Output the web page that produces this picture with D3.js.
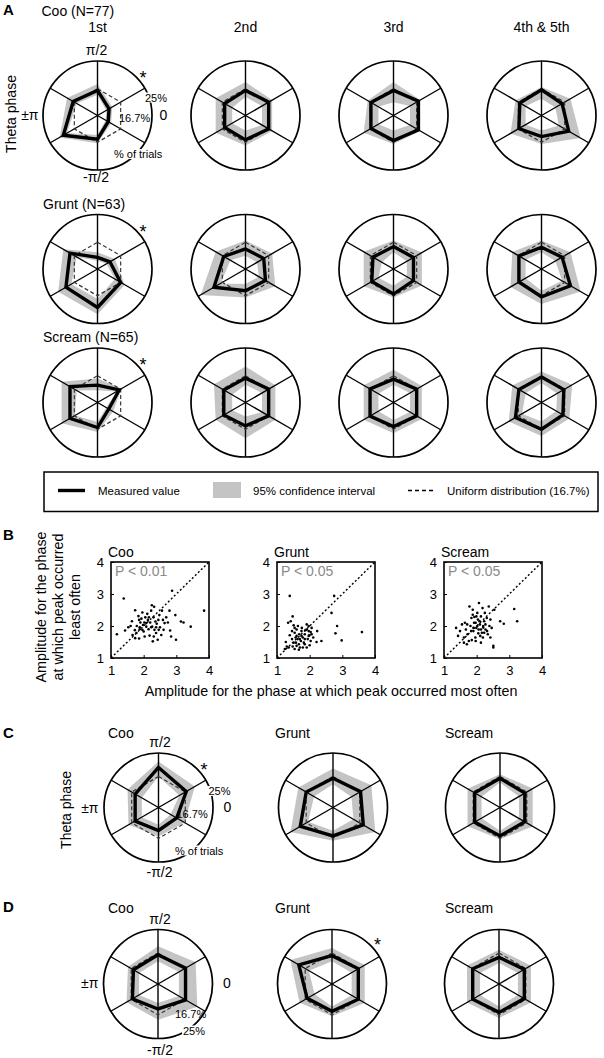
<!DOCTYPE html>
<html><head><meta charset="utf-8">
<script src="https://cdn.jsdelivr.net/npm/d3@7"></script>
<style>
body{margin:0;background:#fff}
svg{display:block;font-family:"Liberation Sans",Arial,Helvetica,sans-serif}
</style>
</head><body>
<svg id="fig" width="604" height="1058"></svg>
<script>
// ---------------- DATA ----------------
// phase bins (degrees) in drawing order: π/2, π/6, -π/6, -π/2, -5π/6, 5π/6
const phaseAnglesDeg = [90, 30, -30, -90, -150, 150];
const phaseAxisLabels = ["π/2", "0", "-π/2", "±π"];
const uniformPct = 16.7;
const callTypes = ["Coo", "Grunt", "Scream"];
const callCountsA = [77, 63, 65];
const peakOrders = ["1st", "2nd", "3rd", "4th & 5th"];

// Panel A: % of trials per phase bin [row = call type][col = peak order]
const panelA_measured = [
  [[16.2,12.7,12.4,15.8,20.5,17.1],[16.2,16.7,16.7,16.0,15.9,15.9],[16.2,17.3,17.3,16.2,16.5,16.5],[16.4,15.8,18.1,15.0,16.5,16.2]],
  [[12.2,13.0,16.7,20.2,19.6,18.2],[14.7,15.0,15.6,15.2,19.6,16.2],[15.4,15.6,15.6,16.2,16.2,15.8],[15.2,15.8,18.7,17.0,16.5,16.5]],
  [[13.9,16.2,12.6,16.2,18.2,18.2],[16.0,16.7,16.7,15.7,16.2,16.2],[15.7,16.7,16.7,15.9,16.8,16.8],[16.3,16.4,16.1,16.7,17.7,16.5]]
];
const panelA_lower = [
  [[14.9,11.7,11.5,14.5,19.2,15.9],[14.2,14.4,14.4,13.2,13.3,13.3],[12.7,14.4,14.4,13.2,13.9,13.9],[13.7,13.5,14.7,13.2,14.2,14.2]],
  [[11.2,11.8,14.7,17.7,17.7,15.9],[12.7,12.7,13.3,13.2,17.3,13.9],[13.7,13.3,13.3,13.7,13.9,12.7],[13.7,13.5,15.8,15.2,14.2,14.2]],
  [[12.4,15.3,11.7,14.5,16.5,15.9],[14.0,14.4,14.4,12.9,13.3,13.3],[14.0,14.4,14.4,13.9,13.9,13.9],[14.5,14.1,13.8,14.4,15.4,14.2]]
];
const panelA_upper = [
  [[18.1,13.8,13.4,17.0,21.8,19.2],[18.7,17.9,17.9,17.7,19.0,19.0],[18.7,17.9,17.9,17.2,19.0,17.6],[17.2,18.7,22.2,17.2,19.4,17.7]],
  [[13.7,14.7,18.1,22.2,22.3,20.5],[17.2,17.9,19.0,17.2,24.2,19.0],[17.2,18.5,18.5,17.2,19.0,19.0],[17.2,18.7,22.2,19.2,19.4,18.8]],
  [[15.9,17.0,14.1,17.5,21.1,21.1],[19.5,19.0,19.0,19.4,19.0,19.6],[18.5,18.5,18.5,17.9,19.0,19.0],[18.0,19.3,18.3,18.7,20.0,18.8]]
];

// Panel C (one radar per call type)
const panelC_measured = [[19.9,17.1,13.2,13.9,15.3,15.3],[16.1,17.0,18.1,15.8,19.1,16.7],[16.1,15.9,15.9,15.8,16.1,16.1]];
const panelC_lower    = [[16.7,14.3,10.7,11.9,12.6,12.6],[14.0,13.3,14.1,14.0,15.9,13.5],[14.6,13.5,13.5,14.0,13.3,13.3]];
const panelC_upper    = [[22.0,20.6,16.4,16.0,18.0,18.4],[19.5,21.4,23.0,17.5,23.1,19.9],[17.5,19.1,19.1,17.0,19.0,19.0]];
// Panel D
const panelD_measured = [[16.1,17.0,17.0,14.6,16.2,15.8],[15.8,16.5,16.5,15.4,15.9,19.3],[15.2,16.1,16.1,15.8,16.5,16.5]];
const panelD_lower    = [[13.8,14.3,14.3,12.5,13.5,13.5],[13.8,13.8,13.8,13.7,12.9,15.2],[13.2,13.5,13.5,13.7,13.5,13.5]];
const panelD_upper    = [[19.1,21.1,21.8,18.4,18.6,18.0],[18.5,19.1,19.1,17.2,19.0,22.7],[17.9,18.8,18.8,17.8,18.8,18.8]];

// Panel B scatter: amplitude at most-often phase (x) vs least-often phase (y)
const cooMost  = [1.18,1.43,1.39,1.64,1.74,1.79,1.73,1.78,1.86,1.84,1.88,1.88,1.90,1.93,1.96,1.98,2.00,2.03,2.05,2.08,2.08,2.11,2.13,2.15,2.18,2.20,2.23,2.25,2.26,2.28,2.30,2.32,2.33,2.36,2.38,2.40,2.43,2.45,2.48,2.50,2.54,2.56,2.59,2.61,2.64,2.69,2.74,2.79,2.81,2.84,2.87,2.99,2.97,3.14,3.22,3.44,3.85,1.66,1.74,1.86,2.02,2.23,2.31,1.60,1.96,2.16,2.38,1.53,2.46];
const cooLeast = [1.74,1.86,2.86,2.15,2.49,2.00,1.87,1.78,1.61,2.31,1.96,1.90,2.11,2.23,2.42,2.03,1.83,1.67,2.27,2.09,1.98,2.38,2.19,1.90,1.70,2.11,2.48,2.65,1.98,1.52,2.27,2.60,1.88,2.14,1.78,2.07,1.57,2.19,2.34,1.96,1.72,2.48,2.19,1.88,2.09,2.27,2.11,2.48,1.86,1.67,3.10,1.57,2.34,2.14,2.11,1.98,2.48,1.72,1.62,2.19,2.11,1.96,1.67,2.00,1.88,2.27,1.96,1.96,1.88];
const gruntMost  = [1.39,1.34,1.42,1.48,1.51,1.46,1.54,1.60,1.63,1.58,1.67,1.70,1.54,1.48,1.36,1.24,1.30,1.75,1.79,1.82,1.85,1.91,1.94,1.97,1.99,2.03,2.06,2.00,1.73,1.64,1.57,1.85,1.91,1.76,1.68,1.60,1.97,2.11,2.23,2.21,2.36,2.67,2.75,2.84,2.79,2.98,3.60,1.27,1.39,1.46,1.79,1.67,1.51,1.85,2.03,1.97,1.91,1.75,1.60,1.70,2.06,1.54,1.87];
const gruntLeast = [2.94,2.10,2.15,2.30,2.02,1.84,1.79,1.69,1.59,1.48,1.43,1.33,1.28,1.36,1.33,1.28,1.36,1.84,1.64,1.48,1.74,1.89,1.59,2.00,1.71,1.81,1.94,1.40,1.53,2.00,1.64,1.43,1.33,1.94,1.74,1.89,1.84,1.64,1.84,1.50,1.53,2.41,2.94,2.00,1.77,1.55,1.81,1.50,1.71,1.59,1.33,1.26,1.48,1.59,1.53,1.69,2.05,1.69,1.38,1.59,1.74,1.94,1.87];
const screamMost  = [1.55,1.49,1.61,1.67,1.72,1.76,1.81,1.84,1.78,1.88,1.90,1.92,1.96,1.99,2.02,2.04,2.06,2.07,2.10,2.13,2.16,2.18,2.20,2.23,2.25,2.27,2.31,2.34,2.37,2.39,2.42,2.46,2.51,2.54,2.11,1.97,1.85,1.70,1.43,1.37,1.64,1.93,2.05,2.19,2.27,2.32,2.02,2.13,1.97,1.83,1.71,1.90,2.09,2.23,2.42,2.72,3.15,3.24,2.83,2.51,1.61,2.13,1.99,2.20,1.88];
const screamLeast = [2.05,1.84,1.64,1.89,1.74,1.53,2.00,2.25,2.61,2.51,1.84,2.10,1.64,1.94,2.41,2.20,1.89,2.72,2.05,2.30,1.79,2.56,2.00,2.15,2.41,1.89,2.25,1.74,2.61,2.00,1.64,1.94,1.38,2.51,1.69,1.53,1.56,1.43,1.69,1.94,2.10,2.28,1.77,1.64,2.05,1.84,2.00,1.89,2.10,1.84,2.05,1.94,2.15,1.79,2.20,2.15,2.53,2.15,2.07,1.33,1.48,1.48,2.30,1.95,2.35];
const pValues = ["P < 0.01", "P < 0.05", "P < 0.05"];
const ampTicks = [1, 2, 3, 4];

// ---------------- DRAWING ----------------
const svg = d3.select("#fig");
const FONT = '"Liberation Sans",Arial,Helvetica,sans-serif';
const R = 54.5;
const toRad = d => (90 - d) * Math.PI / 180; // d3.lineRadial angle: 0 = up, clockwise

function txt(g, x, y, s, size, anchor, extra) {
  const t = g.append("text").attr("x", x).attr("y", y).text(s)
    .attr("font-size", size).attr("text-anchor", anchor || "start").attr("fill", "#000");
  if (extra) extra(t);
  return t;
}
function whiteBg(t, pad) {
  const b = t.node().getBBox();
  d3.select(t.node().parentNode).insert("rect", () => t.node())
    .attr("x", b.x - pad).attr("y", b.y + 1).attr("width", b.width + 2 * pad).attr("height", b.height - 2)
    .attr("fill", "#fff");
}

function drawRadar(cx, cy, pMin, measured, lower, upper) {
  const g = svg.append("g").attr("transform", `translate(${cx},${cy})`);
  const rScale = d3.scaleLinear().domain([pMin, 25]).range([0, R]);
  const radial = d3.lineRadial()
    .angle((d, i) => toRad(phaseAnglesDeg[i]))
    .radius(d => rScale(d))
    .curve(d3.curveLinearClosed);
  // confidence band (ring between lower and upper polygons)
  g.append("path").attr("d", radial(upper) + radial(lower))
    .attr("fill", "#c4c4c4").attr("fill-rule", "evenodd").attr("stroke", "none");
  // spokes
  g.selectAll("line.spoke").data(phaseAnglesDeg).join("line")
    .attr("x1", 0).attr("y1", 0)
    .attr("x2", d => R * Math.cos(d * Math.PI / 180))
    .attr("y2", d => -R * Math.sin(d * Math.PI / 180))
    .attr("stroke", "#000").attr("stroke-width", 1.4);
  g.append("circle").attr("r", R).attr("fill", "none").attr("stroke", "#000").attr("stroke-width", 1.7);
  // uniform distribution
  g.append("path").attr("d", radial(phaseAnglesDeg.map(() => uniformPct)))
    .attr("fill", "none").attr("stroke", "#3a3a3a").attr("stroke-width", 1.2).attr("stroke-dasharray", "4,2.5");
  // measured
  g.append("path").attr("d", radial(measured))
    .attr("fill", "none").attr("stroke", "#000").attr("stroke-width", 3.4).attr("stroke-linejoin", "miter");
  return g;
}
function star(g, dx, dy) {
  txt(g, dx, dy + 10, "*", 18, "middle");
}

// ---------- Panel A ----------
const aX = [97.5, 245.5, 393.5, 541.5];
const aY = [115.5, 269, 402.5];
txt(svg, 3, 15, "A", 15, "start", t => t.attr("font-weight", "bold"));
txt(svg, 41.5, 16, `${callTypes[0]} (N=${callCountsA[0]})`, 14);
txt(svg, 43, 209, `${callTypes[1]} (N=${callCountsA[1]})`, 14);
txt(svg, 43, 342, `${callTypes[2]} (N=${callCountsA[2]})`, 14);
peakOrders.forEach((p, j) => txt(svg, aX[j], 32, p, 14, "middle"));
txt(svg, 0, 0, "Theta phase", 14, "middle", t => t.attr("transform", "translate(16,114) rotate(-90)"));

const radarsA = [];
for (let i = 0; i < 3; i++) for (let j = 0; j < 4; j++) {
  const g = drawRadar(aX[j], aY[i], 8.7, panelA_measured[i][j], panelA_lower[i][j], panelA_upper[i][j]);
  if (j === 0) star(g, 45.5, -41.5);
  radarsA.push(g);
}
{
  const g = radarsA[0];
  txt(g, -1, -60.5, phaseAxisLabels[0], 14, "middle");
  txt(g, 62, 4, phaseAxisLabels[1], 14, "start");
  txt(g, -1.5, 66, phaseAxisLabels[2], 14, "middle");
  txt(g, -59, 4.5, phaseAxisLabels[3], 14, "end");
  whiteBg(txt(g, 47.5, -14, "25%", 11), 1);
  txt(g, 21.5, 6, "16.7%", 11);
  whiteBg(txt(g, 16.5, 42.5, "% of trials", 11), 1);
}

// ---------- Legend ----------
svg.append("rect").attr("x", 44).attr("y", 472).attr("width", 554).attr("height", 39.5)
  .attr("fill", "none").attr("stroke", "#000").attr("stroke-width", 1.5);
svg.append("line").attr("x1", 58).attr("x2", 85).attr("y1", 490.5).attr("y2", 490.5)
  .attr("stroke", "#000").attr("stroke-width", 3.4);
txt(svg, 98, 494.5, "Measured value", 11.5);
svg.append("rect").attr("x", 213).attr("y", 482).attr("width", 28).attr("height", 16).attr("fill", "#c4c4c4");
txt(svg, 253, 494.5, "95% confidence interval", 11.5);
svg.append("line").attr("x1", 408).attr("x2", 435).attr("y1", 490.5).attr("y2", 490.5)
  .attr("stroke", "#000").attr("stroke-width", 1.3).attr("stroke-dasharray", "4,3");
txt(svg, 447, 494.5, "Uniform distribution (16.7%)", 11.5);

// ---------- Panel B ----------
txt(svg, 3, 540, "B", 15, "start", t => t.attr("font-weight", "bold"));
const bX = [111, 277, 444], bTop = 562, bW = 98, bH = 96;
const bData = [[cooMost, cooLeast], [gruntMost, gruntLeast], [screamMost, screamLeast]];
bData.forEach((d, k) => {
  const x0 = bX[k];
  const xs = d3.scaleLinear().domain([1, 4]).range([x0, x0 + bW]);
  const ys = d3.scaleLinear().domain([1, 4]).range([bTop + bH, bTop]);
  const g = svg.append("g");
  txt(g, x0 - 3, 556.5, callTypes[k], 14);
  txt(g, x0 + 4, 576, pValues[k], 14, "start", t => t.attr("fill", "#8a8a8a"));
  g.append("line").attr("x1", xs(1)).attr("y1", ys(1)).attr("x2", xs(4)).attr("y2", ys(4))
    .attr("stroke", "#000").attr("stroke-width", 1.4).attr("stroke-dasharray", "2,2.2");
  g.selectAll("circle").data(d[0]).join("circle")
    .attr("cx", v => xs(v)).attr("cy", (v, i) => ys(d[1][i])).attr("r", 1.3).attr("fill", "#000");
  const ax = g.append("g").attr("transform", `translate(0,${bTop + bH})`)
    .call(d3.axisBottom(xs).tickValues(ampTicks).tickFormat(d3.format("d")).tickSizeInner(-3).tickSizeOuter(0).tickPadding(8));
  const ay = g.append("g").attr("transform", `translate(${x0},0)`)
    .call(d3.axisLeft(ys).tickValues(ampTicks).tickFormat(d3.format("d")).tickSizeInner(-3).tickSizeOuter(0).tickPadding(7));
  [ax, ay].forEach(a => {
    a.select(".domain").remove();
    a.selectAll("text").attr("font-size", 13).attr("font-family", FONT).attr("fill", "#000");
    a.selectAll("line").attr("stroke", "#000");
  });
  g.append("rect").attr("x", x0).attr("y", bTop).attr("width", bW).attr("height", bH)
    .attr("fill", "none").attr("stroke", "#000").attr("stroke-width", 1.6);
});
txt(svg, 331, 696, "Amplitude for the phase at which peak occurred most often", 14.3, "middle");
["Amplitude for the phase", "at which peak occurred", "least often"].forEach((s, i) => {
  txt(svg, 0, 0, s, 14.3, "middle", t => t.attr("transform", `translate(${46 + i * 17},607) rotate(-90)`));
});

// ---------- Panel C ----------
const cX = [158.5, 333, 500], cY = 807.5;
txt(svg, 3, 738, "C", 15, "start", t => t.attr("font-weight", "bold"));
const cTitleX = [108, 275, 445];
callTypes.forEach((c, k) => txt(svg, cTitleX[k], 738, c, 14));
txt(svg, 0, 0, "Theta phase", 14, "middle", t => t.attr("transform", "translate(71,810) rotate(-90)"));
const radarsC = callTypes.map((c, k) => drawRadar(cX[k], cY, 5.8, panelC_measured[k], panelC_lower[k], panelC_upper[k]));
{
  const g = radarsC[0];
  star(g, 45.5, -41.5);
  txt(g, 1.5, -60.5, phaseAxisLabels[0], 14, "middle");
  txt(g, 65, 4.5, phaseAxisLabels[1], 14, "start");
  txt(g, 1, 69.5, phaseAxisLabels[2], 14, "middle");
  txt(g, -60, 5, phaseAxisLabels[3], 14, "end");
  whiteBg(txt(g, 50, -12.5, "25%", 11), 1);
  txt(g, 18, 10, "16.7%", 11);
  whiteBg(txt(g, 16.5, 47, "% of trials", 11), 1);
}

// ---------- Panel D ----------
const dX = [158, 332, 499], dY = 984;
txt(svg, 3, 912, "D", 15, "start", t => t.attr("font-weight", "bold"));
callTypes.forEach((c, k) => txt(svg, cTitleX[k], 913, c, 14));
const radarsD = callTypes.map((c, k) => drawRadar(dX[k], dY, 5.8, panelD_measured[k], panelD_lower[k], panelD_upper[k]));
{
  const g = radarsD[0];
  txt(g, 2, -60, phaseAxisLabels[0], 14, "middle");
  txt(g, 65, 4, phaseAxisLabels[1], 14, "start");
  txt(g, 2, 71, phaseAxisLabels[2], 14, "middle");
  txt(g, -59.7, 4, phaseAxisLabels[3], 14, "end");
  txt(g, 17, 34, "16.7%", 11);
  whiteBg(txt(g, 25, 50.5, "25%", 11), 1);
  star(radarsD[1], 45.5, -43);
}
</script>
</body></html>
